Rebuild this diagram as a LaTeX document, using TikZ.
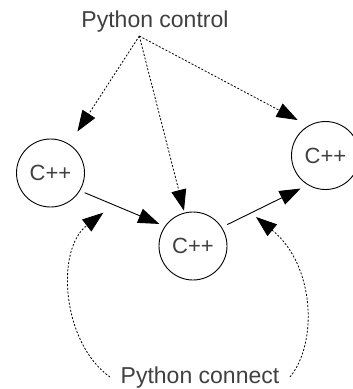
\documentclass[tikz,border=0pt]{standalone}
\usepackage{fontspec}
\setmainfont{Liberation Sans}
\usetikzlibrary{arrows.meta}
\definecolor{txtgray}{HTML}{404040}
\begin{document}
\begin{tikzpicture}[x=1pt,y=-1pt,
  cpp/.style={circle,draw=black,line width=0.9pt,minimum size=68pt,inner sep=0pt,
    text=txtgray,font=\fontsize{22}{26}\selectfont},
  lbl/.style={text=txtgray,font=\fontsize{23}{27}\selectfont,inner sep=0pt},
  tip/.style={-{Triangle[length=21pt,width=15pt]}},
  solidedge/.style={tip,line width=0.9pt},
  dotedge/.style={tip,line width=0.8pt,dash pattern=on 2pt off 1.7pt}]
\useasboundingbox (0,0) rectangle (353,389);
\node[lbl,anchor=base] (pc) at (155,27) {Python control};
\node[lbl,anchor=base] (pn) at (200,383) {Python connect};
\coordinate (ctrl) at (139.3,36);
\node[cpp] (left) at (50.5,173) {C++};
\node[cpp] (mid) at (193,246) {C++};
\node[cpp] (right) at (325.5,155.5) {C++};
\coordinate (cl) at (110,377);
\coordinate (cr) at (290,377);
\coordinate (tl) at (103.3,212.7);
\coordinate (tr) at (256,217);
\draw[solidedge,shorten <=5pt,shorten >=6pt] (left.-31) -- (mid.145);
\draw[solidedge,shorten <=6pt,shorten >=8pt] (mid.33) -- (right.239);
\draw[dotedge,shorten >=15pt] (ctrl) -- (left);
\draw[dotedge,shorten >=2pt] (ctrl) -- (mid);
\draw[dotedge,shorten >=12pt] (ctrl) -- (right.120);
\draw[dotedge] (cl) .. controls (62,343) and (55,250) .. (tl);
\draw[dotedge] (cr) .. controls (318,343) and (315,265) .. (tr);
\end{tikzpicture}
\end{document}
